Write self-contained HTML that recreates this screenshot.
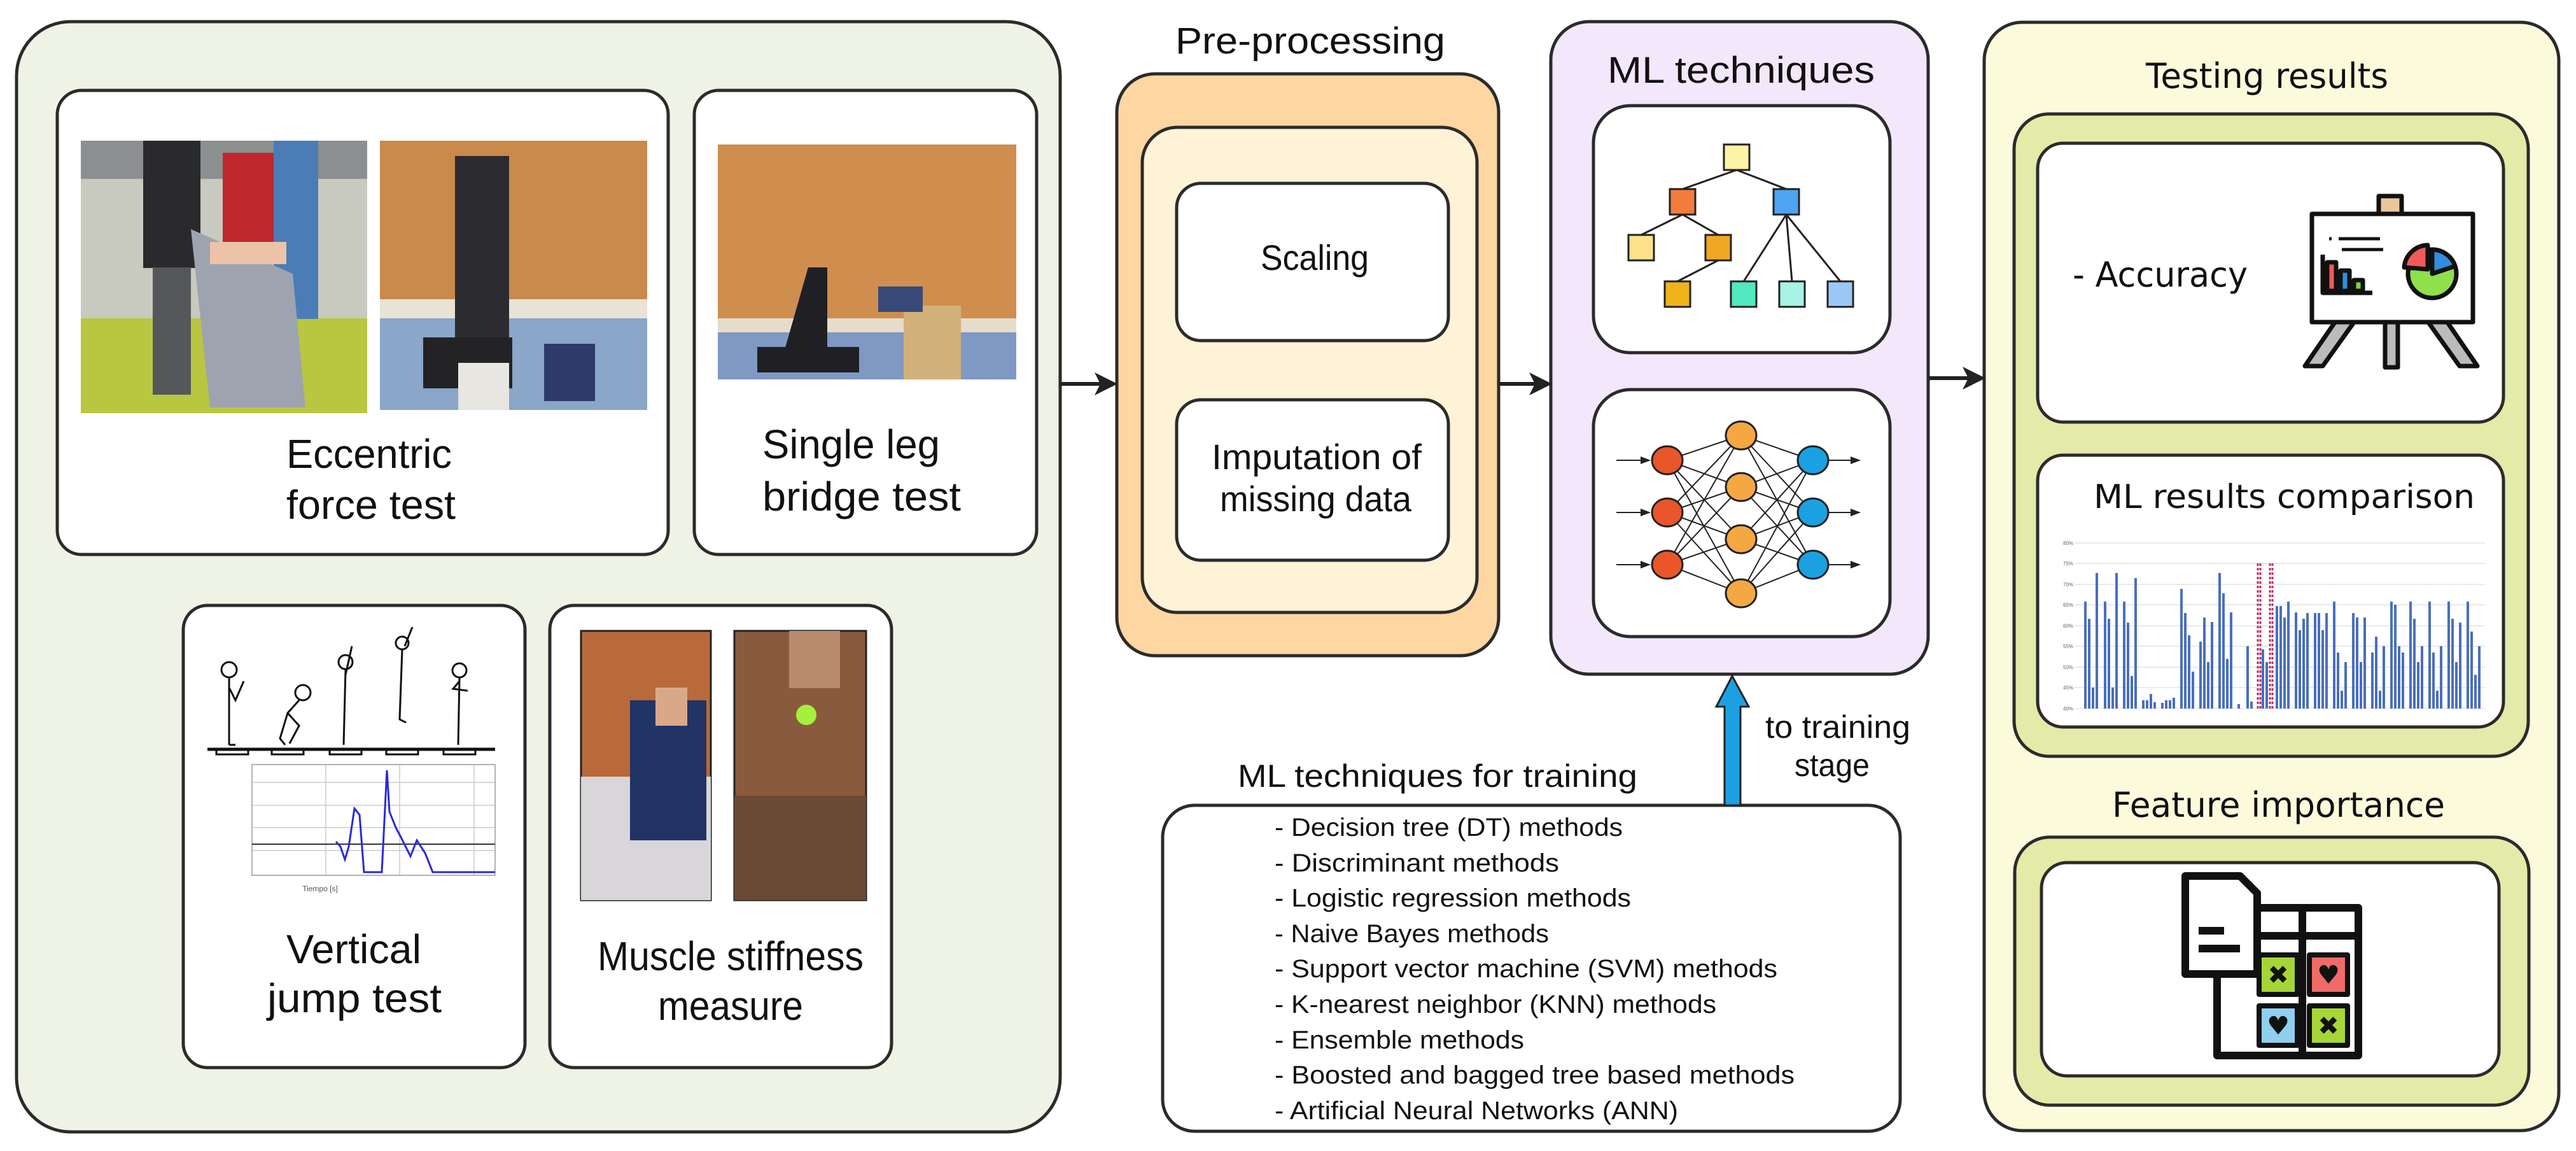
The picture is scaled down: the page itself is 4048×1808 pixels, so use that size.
<!DOCTYPE html>
<html><head><meta charset="utf-8"><style>html,body{margin:0;padding:0;background:#fff}svg{display:block}</style></head><body>
<svg width="4048" height="1808" viewBox="0 0 4048 1808" xmlns="http://www.w3.org/2000/svg" font-family="Liberation Sans, sans-serif">
<defs>
<marker id="ah" markerWidth="6" markerHeight="6" refX="5" refY="3" orient="auto" markerUnits="strokeWidth"><path d="M0,0 L6,3 L0,6 L1.5,3 z" fill="#222"/></marker>
<marker id="sa" markerWidth="8" markerHeight="8" refX="7" refY="4" orient="auto" markerUnits="strokeWidth"><path d="M0,1 L8,4 L0,7 z" fill="#222"/></marker>
</defs>
<g stroke="#2b2b2b" stroke-width="5">
<!-- Left panel -->
<rect x="26" y="34" width="1640" height="1744" rx="85" fill="#eef3e5"/>
<rect x="90" y="142" width="960" height="729" rx="38" fill="#fff"/>
<rect x="1091" y="142" width="538" height="729" rx="38" fill="#fff"/>
<rect x="288" y="951" width="537" height="726" rx="38" fill="#fff"/>
<rect x="864" y="951" width="537" height="726" rx="38" fill="#fff"/>
<!-- Pre-processing -->
<rect x="1755" y="116" width="600" height="914" rx="60" fill="#fdd6a2"/>
<rect x="1795" y="200" width="526" height="762" rx="55" fill="#fef2d7"/>
<rect x="1849" y="288" width="427" height="247" rx="38" fill="#fff"/>
<rect x="1849" y="628" width="427" height="252" rx="38" fill="#fff"/>
<!-- ML techniques -->
<rect x="2437" y="34" width="593" height="1025" rx="60" fill="#f3e7fb"/>
<rect x="2504" y="166" width="466" height="388" rx="58" fill="#fff"/>
<rect x="2504" y="612" width="466" height="388" rx="58" fill="#fff"/>
<!-- Right panel -->
<rect x="3118" y="35" width="903" height="1741" rx="60" fill="#fbfbdc"/>
<rect x="3165" y="179" width="808" height="1009" rx="55" fill="#e4eaa8"/>
<rect x="3202" y="225" width="732" height="438" rx="40" fill="#fff"/>
<rect x="3202" y="715" width="732" height="427" rx="40" fill="#fff"/>
<rect x="3166" y="1315" width="808" height="421" rx="55" fill="#e4eaa8"/>
<rect x="3208" y="1355" width="719" height="335" rx="40" fill="#fff"/>
<!-- training box -->
<rect x="1827" y="1265" width="1159" height="512" rx="50" fill="#fff"/>
</g>
<!-- arrows -->
<g stroke="#222" stroke-width="6" fill="none">
<line x1="1666" y1="603" x2="1750" y2="603" marker-end="url(#ah)"/>
<line x1="2356" y1="603" x2="2433" y2="603" marker-end="url(#ah)"/>
<line x1="3031" y1="594" x2="3114" y2="594" marker-end="url(#ah)"/>
</g>
<!-- blue arrow -->
<path d="M2710,1265 L2710,1110 L2697,1110 L2722,1062 L2748,1110 L2735,1110 L2735,1265 z" fill="#1ba1e2" stroke="#222" stroke-width="3"/>

<!-- Photos -->
<rect x="127" y="221" width="450" height="428" fill="#c8c9bf"/>
<rect x="127" y="500" width="450" height="149" fill="#b9c640"/>
<rect x="127" y="221" width="450" height="60" fill="#8c8f90"/>
<rect x="225" y="221" width="90" height="200" fill="#2a2a2c"/>
<rect x="240" y="420" width="60" height="200" fill="#55575a"/>
<rect x="350" y="240" width="90" height="140" fill="#c0272d"/>
<rect x="430" y="221" width="70" height="280" fill="#4b7cb5"/>
<polygon points="300,360 460,430 480,640 330,640" fill="#9ea3b0"/>
<rect x="330" y="380" width="120" height="35" fill="#ecc3a8"/>
<rect x="597" y="221" width="420" height="423" fill="#c98a4b"/>
<rect x="597" y="500" width="420" height="144" fill="#8aa6c8"/>
<rect x="597" y="470" width="420" height="30" fill="#e9e2d6"/>
<rect x="715" y="245" width="85" height="290" fill="#2b2b30"/>
<rect x="665" y="530" width="140" height="80" fill="#232326"/>
<rect x="720" y="570" width="80" height="74" fill="#e8e6e0"/>
<rect x="855" y="540" width="80" height="90" fill="#2d3a6a"/>
<rect x="1128" y="227" width="469" height="369" fill="#cf8e4e"/>
<rect x="1128" y="520" width="469" height="76" fill="#7f99c3"/>
<rect x="1128" y="500" width="469" height="22" fill="#e6dccb"/>
<rect x="1420" y="480" width="90" height="116" fill="#d2b07a"/>
<rect x="1380" y="450" width="70" height="40" fill="#374a7a"/>
<polygon points="1230,560 1270,420 1300,420 1300,560" fill="#1f1f24"/>
<rect x="1190" y="545" width="160" height="40" fill="#1f1f24"/>
<rect x="913" y="991" width="204" height="423" fill="#b86a3a" stroke="#222" stroke-width="3"/>
<rect x="913" y="1220" width="204" height="194" fill="#d8d6d8"/>
<rect x="990" y="1100" width="120" height="220" fill="#223366"/>
<rect x="1030" y="1080" width="50" height="60" fill="#d9a889"/>
<rect x="1154" y="991" width="207" height="423" fill="#8a5a3e" stroke="#222" stroke-width="3"/>
<rect x="1154" y="1250" width="207" height="164" fill="#6a4a35"/>
<rect x="1240" y="991" width="80" height="90" fill="#b88a6e"/>
<circle cx="1267" cy="1123" r="16" fill="#a4f03a"/>

<!-- stick figures -->
<g stroke="#111" stroke-width="3" fill="none">
<line x1="326" y1="1177" x2="778" y2="1177" stroke-width="5"/>
<rect x="340" y="1177" width="50" height="8"/><rect x="427" y="1177" width="50" height="8"/><rect x="518" y="1177" width="50" height="8"/><rect x="607" y="1177" width="50" height="8"/><rect x="697" y="1177" width="50" height="8"/>
<circle cx="360" cy="1052" r="12"/><path d="M360,1064 L360,1170 M360,1080 L370,1100 L383,1070 M360,1170 L370,1170"/>
<circle cx="476" cy="1088" r="12"/><path d="M470,1100 L452,1120 L470,1140 L455,1168 M452,1120 L440,1160 L448,1170"/>
<circle cx="543" cy="1040" r="11"/><path d="M543,1052 L540,1170 M543,1060 L553,1015"/>
<circle cx="632" cy="1010" r="10"/><path d="M632,1020 L628,1130 L638,1135 M636,1015 L648,985"/>
<circle cx="722" cy="1053" r="11"/><path d="M722,1064 L720,1170 M722,1070 L712,1082 L735,1085"/>
</g>
<g stroke="#ccc" stroke-width="1.5">
<line x1="396" y1="1229" x2="778" y2="1229"/><line x1="396" y1="1265" x2="778" y2="1265"/><line x1="396" y1="1300" x2="778" y2="1300"/><line x1="396" y1="1336" x2="778" y2="1336"/>
<line x1="512" y1="1201" x2="512" y2="1375"/><line x1="628" y1="1201" x2="628" y2="1375"/><line x1="745" y1="1201" x2="745" y2="1375"/>
</g>
<rect x="396" y="1201" width="382" height="174" fill="none" stroke="#999" stroke-width="1.5"/>
<line x1="396" y1="1326" x2="778" y2="1326" stroke="#333" stroke-width="2"/>
<polyline points="528,1322 535,1330 542,1350 548,1330 557,1270 565,1280 572,1370 600,1370 608,1210 612,1275 622,1300 630,1315 645,1345 655,1320 668,1340 680,1370 778,1370" fill="none" stroke="#2a2ad8" stroke-width="3"/>
<text x="503" y="1400" font-size="12" text-anchor="middle" fill="#555">Tiempo [s]</text>

<!-- tree -->
<g stroke="#222" stroke-width="3">
<line x1="2729" y1="267" x2="2644" y2="297"/><line x1="2729" y1="267" x2="2807" y2="297"/>
<line x1="2644" y1="337" x2="2579" y2="369"/><line x1="2644" y1="337" x2="2700" y2="369"/>
<line x1="2700" y1="409" x2="2636" y2="442"/>
<line x1="2807" y1="337" x2="2740" y2="442"/><line x1="2807" y1="337" x2="2816" y2="442"/><line x1="2807" y1="337" x2="2892" y2="442"/>
<rect x="2709" y="227" width="40" height="40" fill="#fdf3a6"/>
<rect x="2624" y="297" width="40" height="40" fill="#f47c3c"/>
<rect x="2787" y="297" width="40" height="40" fill="#4ea3f2"/>
<rect x="2559" y="369" width="40" height="40" fill="#fde28a"/>
<rect x="2680" y="369" width="40" height="40" fill="#f2a722"/>
<rect x="2616" y="442" width="40" height="40" fill="#f0b41a"/>
<rect x="2720" y="442" width="40" height="40" fill="#52e8c0"/>
<rect x="2796" y="442" width="40" height="40" fill="#a8f3e6"/>
<rect x="2872" y="442" width="40" height="40" fill="#9cc8f6"/>
</g>
<!-- NN -->
<g stroke="#222" stroke-width="2">
<g id="e1"><line x1="2620" y1="723" x2="2736" y2="684"/><line x1="2620" y1="723" x2="2736" y2="765"/><line x1="2620" y1="723" x2="2736" y2="847"/><line x1="2620" y1="723" x2="2736" y2="932"/></g>
<line x1="2620" y1="805" x2="2736" y2="684"/><line x1="2620" y1="805" x2="2736" y2="765"/><line x1="2620" y1="805" x2="2736" y2="847"/><line x1="2620" y1="805" x2="2736" y2="932"/>
<line x1="2620" y1="887" x2="2736" y2="684"/><line x1="2620" y1="887" x2="2736" y2="765"/><line x1="2620" y1="887" x2="2736" y2="847"/><line x1="2620" y1="887" x2="2736" y2="932"/>
<line x1="2849" y1="723" x2="2736" y2="684"/><line x1="2849" y1="723" x2="2736" y2="765"/><line x1="2849" y1="723" x2="2736" y2="847"/><line x1="2849" y1="723" x2="2736" y2="932"/>
<line x1="2849" y1="805" x2="2736" y2="684"/><line x1="2849" y1="805" x2="2736" y2="765"/><line x1="2849" y1="805" x2="2736" y2="847"/><line x1="2849" y1="805" x2="2736" y2="932"/>
<line x1="2849" y1="887" x2="2736" y2="684"/><line x1="2849" y1="887" x2="2736" y2="765"/><line x1="2849" y1="887" x2="2736" y2="847"/><line x1="2849" y1="887" x2="2736" y2="932"/>
<line x1="2540" y1="723" x2="2592" y2="723" marker-end="url(#sa)"/><line x1="2540" y1="805" x2="2592" y2="805" marker-end="url(#sa)"/><line x1="2540" y1="887" x2="2592" y2="887" marker-end="url(#sa)"/>
<line x1="2874" y1="723" x2="2922" y2="723" marker-end="url(#sa)"/><line x1="2874" y1="805" x2="2922" y2="805" marker-end="url(#sa)"/><line x1="2874" y1="887" x2="2922" y2="887" marker-end="url(#sa)"/>
</g>
<g stroke="#222" stroke-width="3">
<ellipse cx="2620" cy="723" rx="24" ry="22" fill="#e8562a"/><ellipse cx="2620" cy="805" rx="24" ry="22" fill="#e8562a"/><ellipse cx="2620" cy="887" rx="24" ry="22" fill="#e8562a"/>
<ellipse cx="2736" cy="684" rx="24" ry="22" fill="#f5a742"/><ellipse cx="2736" cy="765" rx="24" ry="22" fill="#f5a742"/><ellipse cx="2736" cy="847" rx="24" ry="22" fill="#f5a742"/><ellipse cx="2736" cy="932" rx="24" ry="22" fill="#f5a742"/>
<ellipse cx="2849" cy="723" rx="24" ry="22" fill="#1ba1e2"/><ellipse cx="2849" cy="805" rx="24" ry="22" fill="#1ba1e2"/><ellipse cx="2849" cy="887" rx="24" ry="22" fill="#1ba1e2"/>
</g>

<!-- easel -->
<g stroke="#111" stroke-width="7" stroke-linejoin="round">
<rect x="3738" y="308" width="36" height="28" fill="#e9c79a"/>
<polygon points="3670,505 3700,505 3650,575 3622,575" fill="#bbb"/>
<polygon points="3845,505 3815,505 3865,575 3893,575" fill="#bbb"/>
<rect x="3748" y="505" width="20" height="72" fill="#bbb"/>
<rect x="3633" y="336" width="253" height="170" fill="#fff"/>
<rect x="3657" y="412" width="14" height="45" fill="#f05a5a"/>
<rect x="3678" y="425" width="14" height="32" fill="#2f8fe0"/>
<rect x="3699" y="440" width="14" height="17" fill="#7dcf3a"/>
<polyline points="3650,400 3650,460 3728,460" fill="none"/>
<circle cx="3822" cy="430" r="38" fill="#8fe04a"/>
<path d="M3822,430 L3822,392 A38,38 0 0 1 3858,418 z" fill="#2f8fe0"/>
<path d="M3815,423 L3815,385 A38,38 0 0 0 3778,420 z" fill="#f05a5a"/>
<line x1="3675" y1="375" x2="3740" y2="375" stroke-width="5"/><line x1="3660" y1="375" x2="3664" y2="375" stroke-width="5"/><line x1="3680" y1="392" x2="3745" y2="392" stroke-width="5"/>
</g>

<!-- comparison chart -->
<g stroke="#e4e4e4" stroke-width="1.5">
<line x1="3260" y1="853" x2="3905" y2="853"/><line x1="3260" y1="885" x2="3905" y2="885"/><line x1="3260" y1="918" x2="3905" y2="918"/><line x1="3260" y1="950" x2="3905" y2="950"/><line x1="3260" y1="983" x2="3905" y2="983"/><line x1="3260" y1="1015" x2="3905" y2="1015"/><line x1="3260" y1="1048" x2="3905" y2="1048"/><line x1="3260" y1="1080" x2="3905" y2="1080"/><line x1="3260" y1="1113" x2="3905" y2="1113"/>
</g>
<g font-size="8" fill="#666" font-family="Liberation Sans, sans-serif">
<text x="3242" y="856">80%</text><text x="3242" y="888">75%</text><text x="3242" y="921">70%</text><text x="3242" y="953">65%</text><text x="3242" y="986">60%</text><text x="3242" y="1018">55%</text><text x="3242" y="1051">50%</text><text x="3242" y="1083">45%</text><text x="3242" y="1116">40%</text>
</g>
<g id="bars">
<path d="M3277,1113V945M3283,1113V972M3289,1113V1080M3295,1113V900
M3308,1113V945M3314,1113V972M3320,1113V1080M3326,1113V900
M3338,1113V945M3344,1113V978M3350,1113V1062M3356,1113V908
M3368,1113V1100M3374,1113V1100M3380,1113V1090M3386,1113V1103
M3398,1113V1104M3404,1113V1100M3410,1113V1100M3416,1113V1096
M3428,1113V925M3434,1113V963M3440,1113V998M3446,1113V1055
M3458,1113V1008M3464,1113V970M3470,1113V1040M3476,1113V977
M3488,1113V900M3494,1113V932M3500,1113V1035M3506,1113V962
M3518,1113V1106M3532,1113V1015M3538,1113V1102
M3578,1113V952M3584,1113V952M3590,1113V970M3596,1113V945
M3608,1113V962M3614,1113V990M3620,1113V972M3626,1113V963
M3638,1113V963M3644,1113V963M3650,1113V990M3656,1113V963
M3668,1113V945M3674,1113V1025M3680,1113V1085M3686,1113V1040
M3698,1113V963M3704,1113V970M3710,1113V1040M3716,1113V970
M3728,1113V1025M3734,1113V1000M3740,1113V1085M3746,1113V1015
M3758,1113V945M3764,1113V950M3770,1113V1015M3776,1113V1025
M3788,1113V945M3794,1113V972M3800,1113V1040M3806,1113V1015
M3818,1113V945M3824,1113V1025M3830,1113V1085M3836,1113V1015
M3848,1113V945M3854,1113V972M3860,1113V1040M3866,1113V978
M3878,1113V945M3884,1113V992M3890,1113V1060M3896,1113V1015" stroke="#4a6fc0" stroke-width="4" fill="none"/>
<path d="M3548,1113V882M3552,1113V882M3567,1113V882M3571,1113V882" stroke="#c03060" stroke-width="3" stroke-dasharray="4,3"/>
<path d="M3556,1113V1020M3562,1113V1040" stroke="#4a6fc0" stroke-width="4"/>
</g>

<!-- feature icon -->
<g stroke="#111" stroke-width="12" stroke-linejoin="round">
<rect x="3484" y="1426" width="222" height="232" fill="#fff"/>
<rect x="3550" y="1500" width="60" height="62" fill="#a6d636" stroke-width="8"/>
<rect x="3629" y="1500" width="60" height="62" fill="#f06a6a" stroke-width="8"/>
<rect x="3550" y="1580" width="60" height="62" fill="#8fd0ef" stroke-width="8"/>
<rect x="3629" y="1580" width="60" height="62" fill="#a6d636" stroke-width="8"/>
<line x1="3484" y1="1470" x2="3706" y2="1470"/><line x1="3618" y1="1426" x2="3618" y2="1658"/>
<path d="M3434,1376 L3520,1376 L3547,1403 L3547,1530 L3434,1530 z" fill="#fff"/>
<line x1="3455" y1="1462" x2="3495" y2="1462"/><line x1="3455" y1="1490" x2="3520" y2="1490"/>
</g>
<g fill="#111" font-family="DejaVu Sans, sans-serif" font-weight="bold" font-size="40" text-anchor="middle">
<text x="3580" y="1545">✖</text><text x="3659" y="1545">♥</text><text x="3580" y="1625">♥</text><text x="3659" y="1625">✖</text>
</g>

<!-- text -->
<g fill="#111" font-family="Liberation Sans, sans-serif" lengthAdjust="spacingAndGlyphs">
<text x="1847" y="84" font-size="58" textLength="424" lengthAdjust="spacingAndGlyphs">Pre-processing</text>
<text x="2526" y="130" font-size="58" textLength="420" lengthAdjust="spacingAndGlyphs">ML techniques</text>
<text x="1981" y="424" font-size="56" textLength="170" lengthAdjust="spacingAndGlyphs">Scaling</text>
<text x="1904" y="737" font-size="56" textLength="330" lengthAdjust="spacingAndGlyphs">Imputation of</text>
<text x="1917" y="803" font-size="56" textLength="301" lengthAdjust="spacingAndGlyphs">missing data</text>
<text x="450" y="735" font-size="64" textLength="260" lengthAdjust="spacingAndGlyphs">Eccentric</text>
<text x="450" y="815" font-size="64" textLength="266" lengthAdjust="spacingAndGlyphs">force test</text>
<text x="1198" y="720" font-size="64" textLength="279" lengthAdjust="spacingAndGlyphs">Single leg</text>
<text x="1198" y="802" font-size="64" textLength="312" lengthAdjust="spacingAndGlyphs">bridge test</text>
<text x="450" y="1513" font-size="64" textLength="212" lengthAdjust="spacingAndGlyphs">Vertical</text>
<text x="420" y="1590" font-size="64" textLength="274" lengthAdjust="spacingAndGlyphs">jump test</text>
<text x="939" y="1524" font-size="64" textLength="418" lengthAdjust="spacingAndGlyphs">Muscle stiffness</text>
<text x="1034" y="1602" font-size="64" textLength="228" lengthAdjust="spacingAndGlyphs">measure</text>
<text x="1945" y="1236" font-size="50" textLength="628" lengthAdjust="spacingAndGlyphs">ML techniques for training</text>
<text x="2774" y="1159" font-size="50" textLength="228" lengthAdjust="spacingAndGlyphs">to training</text>
<text x="2820" y="1219" font-size="50" textLength="118" lengthAdjust="spacingAndGlyphs">stage</text>
<g font-size="40">
<text x="2003" y="1313" textLength="547" lengthAdjust="spacingAndGlyphs">- Decision tree (DT) methods</text>
<text x="2003" y="1369" textLength="447" lengthAdjust="spacingAndGlyphs">- Discriminant methods</text>
<text x="2003" y="1424" textLength="560" lengthAdjust="spacingAndGlyphs">- Logistic regression methods</text>
<text x="2003" y="1480" textLength="431" lengthAdjust="spacingAndGlyphs">- Naive Bayes methods</text>
<text x="2003" y="1535" textLength="790" lengthAdjust="spacingAndGlyphs">- Support vector machine (SVM) methods</text>
<text x="2003" y="1591" textLength="694" lengthAdjust="spacingAndGlyphs">- K-nearest neighbor (KNN) methods</text>
<text x="2003" y="1647" textLength="392" lengthAdjust="spacingAndGlyphs">- Ensemble methods</text>
<text x="2003" y="1702" textLength="817" lengthAdjust="spacingAndGlyphs">- Boosted and bagged tree based methods</text>
<text x="2003" y="1758" textLength="634" lengthAdjust="spacingAndGlyphs">- Artificial Neural Networks (ANN)</text>
</g>
</g>
<g fill="#111" font-family="DejaVu Sans, sans-serif">
<text x="3372" y="138" font-size="54" textLength="381" lengthAdjust="spacingAndGlyphs">Testing results</text>
<text x="3257" y="450" font-size="54" textLength="275" lengthAdjust="spacingAndGlyphs">- Accuracy</text>
<text x="3290" y="798" font-size="52" textLength="599" lengthAdjust="spacingAndGlyphs">ML results comparison</text>
<text x="3319" y="1283" font-size="54" textLength="523" lengthAdjust="spacingAndGlyphs">Feature importance</text>
</g>
</svg>
</body></html>
